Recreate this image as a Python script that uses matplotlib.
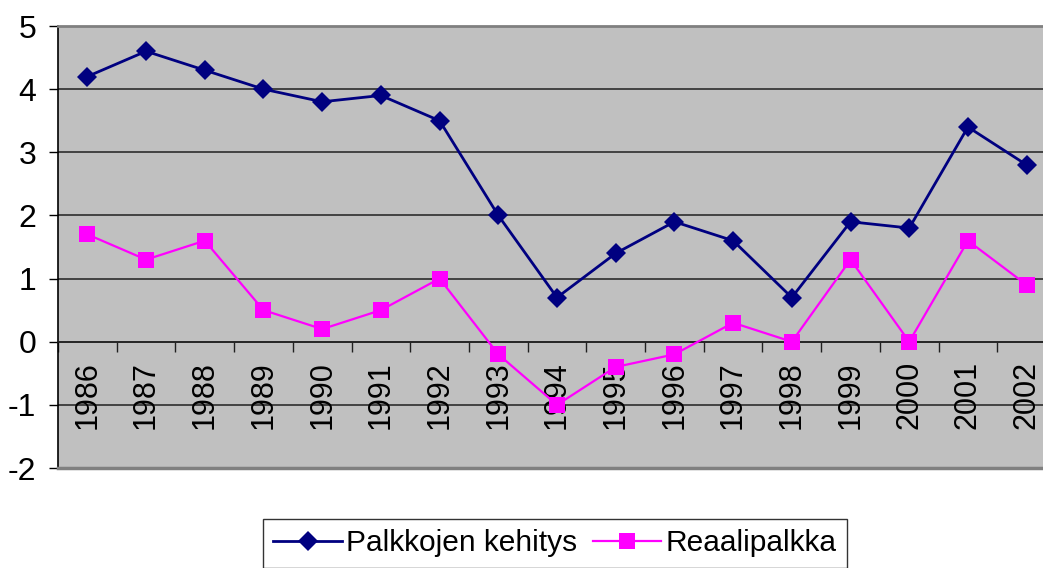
import matplotlib
matplotlib.use("Agg")
import matplotlib.pyplot as plt
import numpy as np

plt.rcParams['font.family'] = ['Liberation Sans', 'DejaVu Sans']
plt.rcParams['axes.unicode_minus'] = False

# data
years = ['1986', '1987', '1988', '1989', '1990', '1991', '1992', '1993', '1994',
         '1995', '1996', '1997', '1998', '1999', '2000', '2001', '2002']
palkkojen = [4.2, 4.6, 4.3, 4.0, 3.8, 3.9, 3.5, 2.0, 0.7, 1.4, 1.9, 1.6, 0.7, 1.9, 1.8, 3.4, 2.8]
reaali = [1.7, 1.3, 1.6, 0.5, 0.2, 0.5, 1.0, -0.2, -1.0, -0.4, -0.2, 0.3, 0.0, 1.3, 0.0, 1.6, 0.9]
yticks = [-2, -1, 0, 1, 2, 3, 4, 5]

fig = plt.figure(figsize=(10.43, 5.68), dpi=100)
ax = fig.add_axes([58/1043, 1-468/568, (1056-58)/1043, (468-26)/568])
ax.set_facecolor('#C0C0C0')

x = np.arange(len(years))
ax.plot(x, palkkojen, color='#000080', lw=2, marker='D', ms=10, mew=0,
        label='Palkkojen kehitys', zorder=4)
ax.plot(x, reaali, color='#FF00FF', lw=1.6, marker='s', ms=11.5, mew=0,
        label='Reaalipalkka', zorder=3)

ax.set_xlim(-0.5, len(years) - 0.5)
ax.set_ylim(-2, 5)

# gridlines
for v in yticks[1:-1]:
    ax.axhline(v, color='#202020', lw=1.1, zorder=1)

# y axis
ax.set_yticks(yticks)
ax.tick_params(axis='y', length=6.5, width=1, pad=9, labelsize=23, direction='out')

# x axis sits at zero, ticks between categories
ax.spines['bottom'].set_position(('data', 0))
ax.spines['bottom'].set_color('#202020')
ax.spines['bottom'].set_linewidth(1.1)
ax.set_xticks(x)
ax.set_xticklabels(years, rotation=90)
ax.set_xticks(np.arange(len(years) + 1) - 0.5, minor=True)
ax.tick_params(axis='x', which='major', length=0, pad=14, labelsize=22)
ax.tick_params(axis='x', which='minor', length=7, width=1, direction='out', color='#202020')

ax.spines['left'].set_color('black')
ax.spines['left'].set_linewidth(1.2)
ax.spines['top'].set_color('#808080')
ax.spines['top'].set_linewidth(2)
ax.spines['right'].set_visible(False)
ax.axhline(-2, color='#808080', lw=2.5, clip_on=False, zorder=5)

leg = fig.legend(loc='upper center', bbox_to_anchor=(555/1043, 1-519/568), ncol=2,
                 fontsize=21.5, frameon=True, fancybox=False, edgecolor='black',
                 handlelength=2.3, handletextpad=0.15, columnspacing=0.5,
                 borderpad=0.35, borderaxespad=0)
leg.get_frame().set_linewidth(1)

fig.savefig('out.png', dpi=100)
